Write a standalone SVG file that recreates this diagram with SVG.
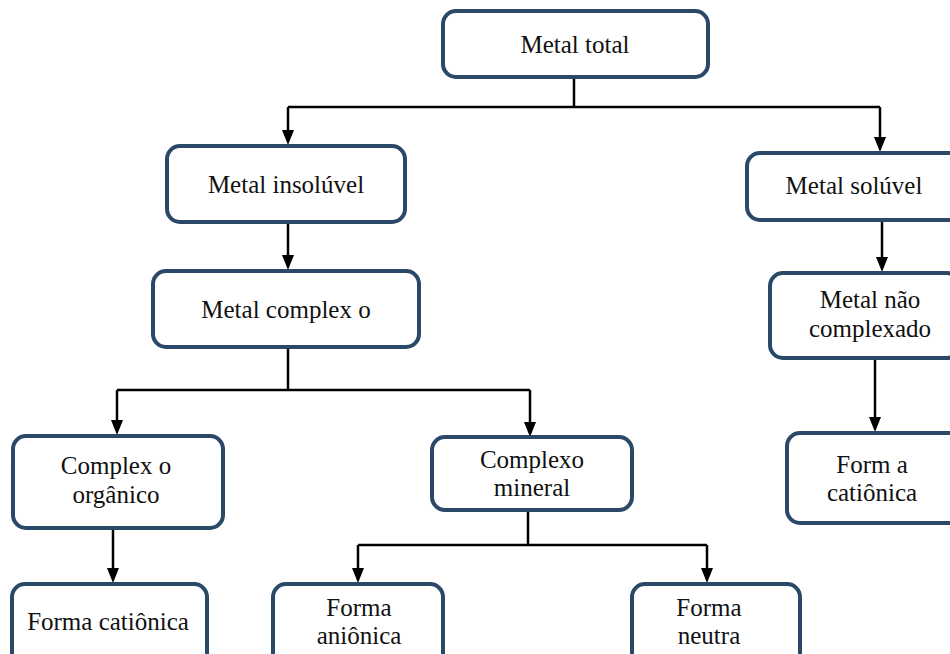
<svg xmlns="http://www.w3.org/2000/svg" width="950" height="654" viewBox="0 0 950 654">
  <style>
    .box { fill: #ffffff; stroke: #2a4868; stroke-width: 4; }
    .wire { fill: none; stroke: #000000; stroke-width: 2.5; }
    .head { fill: #000000; }
  </style>
  <rect width="950" height="654" fill="#ffffff"/>

  <g id="connectors">
    <path class="wire" d="M574,78 V107"/>
    <path class="wire" d="M288,107 H880"/>
    <path class="wire" d="M288,107 V131"/>
    <path class="wire" d="M880,107 V138"/>
    <path class="wire" d="M288,222 V256"/>
    <path class="wire" d="M288,347 V390"/>
    <path class="wire" d="M117,390 H530"/>
    <path class="wire" d="M117,390 V421"/>
    <path class="wire" d="M530,390 V423"/>
    <path class="wire" d="M113,528 V569"/>
    <path class="wire" d="M528,510 V545"/>
    <path class="wire" d="M358,545 H707"/>
    <path class="wire" d="M358,545 V569"/>
    <path class="wire" d="M707,545 V569"/>
    <path class="wire" d="M882,220 V258"/>
    <path class="wire" d="M875,358 V418"/>
    <!-- arrowheads -->
    <path class="head" d="M282,130 L294,130 L288,145 Z"/>
    <path class="head" d="M874,137 L886,137 L880,152 Z"/>
    <path class="head" d="M282,255 L294,255 L288,270 Z"/>
    <path class="head" d="M111,420 L123,420 L117,435 Z"/>
    <path class="head" d="M524,422 L536,422 L530,437 Z"/>
    <path class="head" d="M107,568 L119,568 L113,583 Z"/>
    <path class="head" d="M352,568 L364,568 L358,583 Z"/>
    <path class="head" d="M701,568 L713,568 L707,583 Z"/>
    <path class="head" d="M876,257 L888,257 L882,272 Z"/>
    <path class="head" d="M869,417 L881,417 L875,432 Z"/>
  </g>

  <g id="nodes" font-family="Liberation Serif, serif" font-size="25" fill="#111111" text-anchor="middle">
    <g id="metal-total">
      <rect class="box" x="443" y="11" width="265" height="66" rx="13"/>
      <text x="575" y="53">Metal total</text>
    </g>
    <g id="metal-insoluvel">
      <rect class="box" x="167" y="146" width="238" height="76" rx="13"/>
      <text x="286" y="193">Metal insolúvel</text>
    </g>
    <g id="metal-complexo">
      <rect class="box" x="153" y="271" width="266" height="76" rx="13"/>
      <text x="286" y="318">Metal complex o</text>
    </g>
    <g id="metal-soluvel">
      <rect class="box" x="747" y="153" width="215" height="67" rx="13"/>
      <text x="854" y="194">Metal solúvel</text>
    </g>
    <g id="metal-nao-complexado">
      <rect class="box" x="770" y="273" width="190" height="85" rx="13"/>
      <text x="870" y="308">Metal não</text>
      <text x="870" y="337">complexado</text>
    </g>
    <g id="forma-cationica-direita">
      <rect class="box" x="787" y="433" width="175" height="90" rx="13"/>
      <text x="872" y="473">Form a</text>
      <text x="872" y="501">catiônica</text>
    </g>
    <g id="complexo-organico">
      <rect class="box" x="13" y="436" width="210" height="92" rx="13"/>
      <text x="116" y="474">Complex o</text>
      <text x="116" y="503">orgânico</text>
    </g>
    <g id="complexo-mineral">
      <rect class="box" x="432" y="437" width="200" height="73" rx="13"/>
      <text x="532" y="468">Complexo</text>
      <text x="532" y="496">mineral</text>
    </g>
    <g id="forma-cationica-esquerda">
      <rect class="box" x="12" y="584" width="195" height="90" rx="13"/>
      <text x="108" y="630">Forma catiônica</text>
    </g>
    <g id="forma-anionica">
      <rect class="box" x="273" y="584" width="170" height="90" rx="13"/>
      <text x="359" y="616">Forma</text>
      <text x="359" y="644">aniônica</text>
    </g>
    <g id="forma-neutra">
      <rect class="box" x="632" y="584" width="168" height="90" rx="13"/>
      <text x="709" y="616">Forma</text>
      <text x="709" y="644">neutra</text>
    </g>
  </g>
</svg>
